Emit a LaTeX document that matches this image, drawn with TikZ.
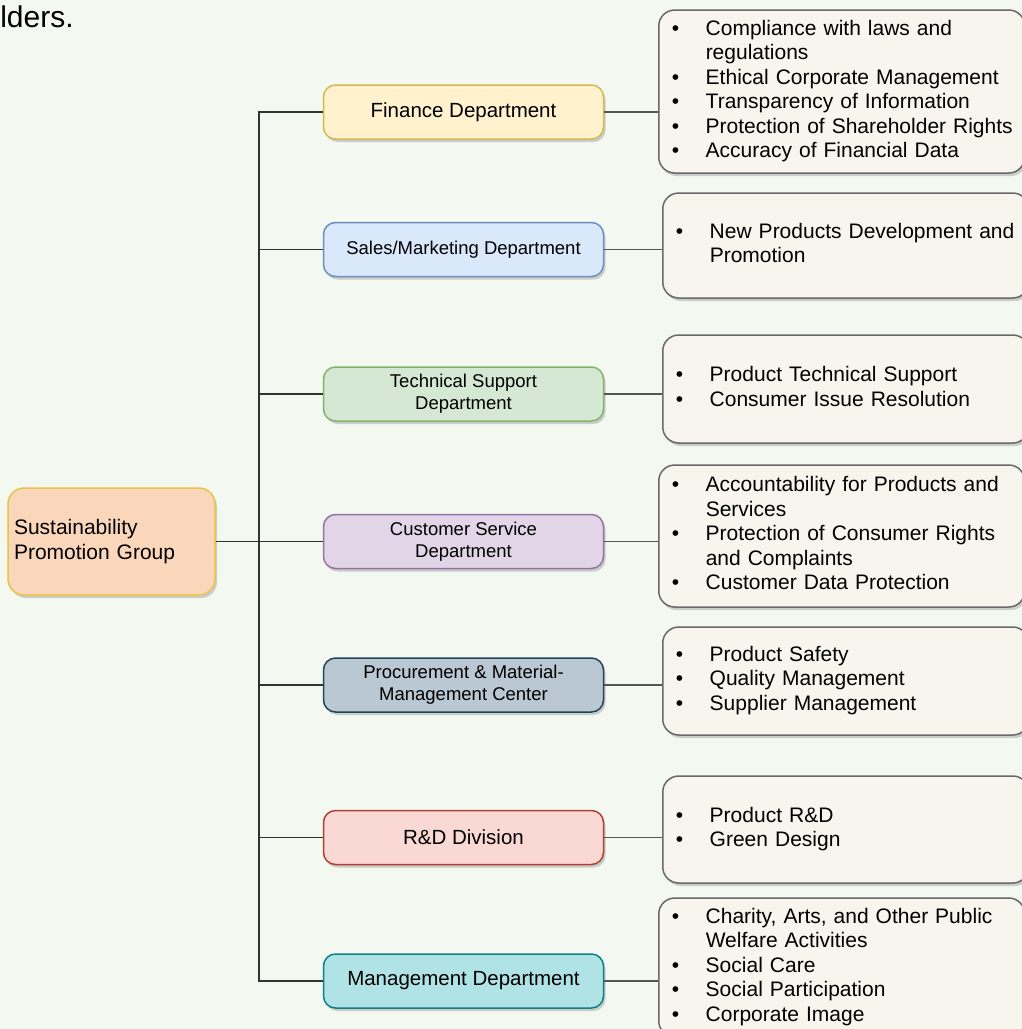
\documentclass[tikz,border=0pt]{standalone}
\usepackage{fontspec}
\setmainfont{Liberation Sans}
\usepackage{tikz}
\usetikzlibrary{positioning,shadows}

\definecolor{bgGreen}{RGB}{243,248,240}
\definecolor{lineDark}{RGB}{50,50,50}
\definecolor{lineGray}{RGB}{85,85,85}
\definecolor{dutyFill}{RGB}{247,245,237}
\definecolor{dutyLine}{RGB}{105,105,105}
\definecolor{spgFill}{RGB}{250,215,186}
\definecolor{spgLine}{RGB}{234,194,74}
\definecolor{finFill}{RGB}{255,242,204}
\definecolor{finLine}{RGB}{214,182,86}
\definecolor{salesFill}{RGB}{218,232,252}
\definecolor{salesLine}{RGB}{108,142,191}
\definecolor{techFill}{RGB}{213,232,212}
\definecolor{techLine}{RGB}{130,179,102}
\definecolor{custFill}{RGB}{225,213,231}
\definecolor{custLine}{RGB}{150,115,166}
\definecolor{procFill}{RGB}{186,200,211}
\definecolor{procLine}{RGB}{35,68,93}
\definecolor{rdFill}{RGB}{250,217,213}
\definecolor{rdLine}{RGB}{174,65,50}
\definecolor{mgmtFill}{RGB}{176,227,230}
\definecolor{mgmtLine}{RGB}{14,128,136}

\newcommand{\deptfont}{\fontsize{18.5}{22}\selectfont}
\newcommand{\deptbig}{\fontsize{20.5}{24}\selectfont}
\newcommand{\dutyfont}{\fontsize{21}{24.5}\selectfont}
\newcommand{\spgfont}{\fontsize{21}{25}\selectfont}
\newcommand{\duties}[1]{\begin{tabular}{@{}p{34pt}@{}l@{}}#1\end{tabular}}

\begin{document}
\begin{tikzpicture}[x=1pt, y=-1pt, semithick, node distance=88pt]
    \tikzstyle{boxshadow}=[drop shadow={shadow xshift=2pt,shadow yshift=-3pt,opacity=0.35}]
    \tikzstyle{dept}=[draw, rounded corners=12pt, line width=1.5pt, minimum width=280pt, minimum height=54pt, align=center, font=\deptfont, boxshadow]
    \tikzstyle{duty}=[draw=dutyLine, fill=dutyFill, rounded corners=16pt, line width=1.5pt, anchor=west, text width=340pt, inner xsep=13pt, inner ysep=0pt, align=left, font=\dutyfont, boxshadow]
    \tikzstyle{trunk}=[draw=lineDark, line width=1.9pt]
    \tikzstyle{link}=[draw=lineGray, line width=1.9pt]

    \useasboundingbox (0,0) rectangle (1022,1029);
    \clip (0,0) rectangle (1022,1029);
    \fill[bgGreen] (0,0) rectangle (1022,1029);

    \node[anchor=base west, inner sep=0pt, font=\fontsize{30}{36}\selectfont] (lead) at (0,27) {lders.}; %cut caption

    % group
    \node[draw=spgLine, fill=spgFill, rounded corners=16pt, line width=1.5pt, minimum width=207pt, minimum height=107pt, text width=195pt, inner xsep=6pt, align=left, font=\spgfont, boxshadow] (spg) at (111.5,541.5) {Sustainability\\Promotion Group};

    % departments
    \node[dept, fill=custFill, draw=custLine] (cust)[right=107pt of spg] {Customer Service\\Department};
    \node[dept, fill=techFill, draw=techLine] (tech)[above=92pt of cust] {Technical Support\\Department};
    \node[dept, fill=salesFill, draw=salesLine] (sales)[above=89pt of tech] {Sales/Marketing Department};
    \node[dept, fill=finFill, draw=finLine, font=\deptbig] (fin)[above=82pt of sales] {Finance Department};
    \node[dept, fill=procFill, draw=procLine] (proc)[below=88pt of cust] {Procurement \& Material-\\Management Center};
    \node[dept, fill=rdFill, draw=rdLine, font=\deptbig] (rd)[below=97pt of proc] {R\&D Division};
    \node[dept, fill=mgmtFill, draw=mgmtLine, font=\deptbig] (mgmt)[below=88pt of rd] {Management Department};

    % duties
    \node[duty, minimum height=163pt] (finDuty) at (658,91.5) {\duties{
        \textbullet & Compliance with laws and\\
                    & regulations\\
        \textbullet & Ethical Corporate Management\\
        \textbullet & Transparency of Information\\
        \textbullet & Protection of Shareholder Rights\\
        \textbullet & Accuracy of Financial Data}};
    \node[duty, minimum height=105pt] (salesDuty) at (662,245.5) {\duties{
        \textbullet & New Products Development and\\
                    & Promotion}};
    \node[duty, minimum height=108pt] (techDuty) at (662,389) {\duties{
        \textbullet & Product Technical Support\\
        \textbullet & Consumer Issue Resolution}};
    \node[duty, minimum height=142pt] (custDuty) at (658,536) {\duties{
        \textbullet & Accountability for Products and\\
                    & Services\\
        \textbullet & Protection of Consumer Rights\\
                    & and Complaints\\
        \textbullet & Customer Data Protection}};
    \node[duty, minimum height=108pt] (procDuty) at (662,681) {\duties{
        \textbullet & Product Safety\\
        \textbullet & Quality Management\\
        \textbullet & Supplier Management}};
    \node[duty, minimum height=107pt] (rdDuty) at (662,829.5) {\duties{
        \textbullet & Product R\&D\\
        \textbullet & Green Design}};
    \node[duty, minimum height=139pt] (mgmtDuty) at (658,967.5) {\duties{
        \textbullet & Charity, Arts, and Other Public\\
                    & Welfare Activities\\
        \textbullet & Social Care\\
        \textbullet & Social Participation\\
        \textbullet & Corporate Image}};

    % tree edges
    \foreach \d in {fin,sales,tech,cust,proc,rd,mgmt}
        \draw[trunk] (spg.east) -- ++(43pt,0) |- (\d.west);

    % department-to-duty edges
    \foreach \d in {fin,sales,tech,cust,proc,rd,mgmt}
        \draw[link] (\d.east) -- (\d.east -| \d Duty.west);

\end{tikzpicture}
\end{document}
